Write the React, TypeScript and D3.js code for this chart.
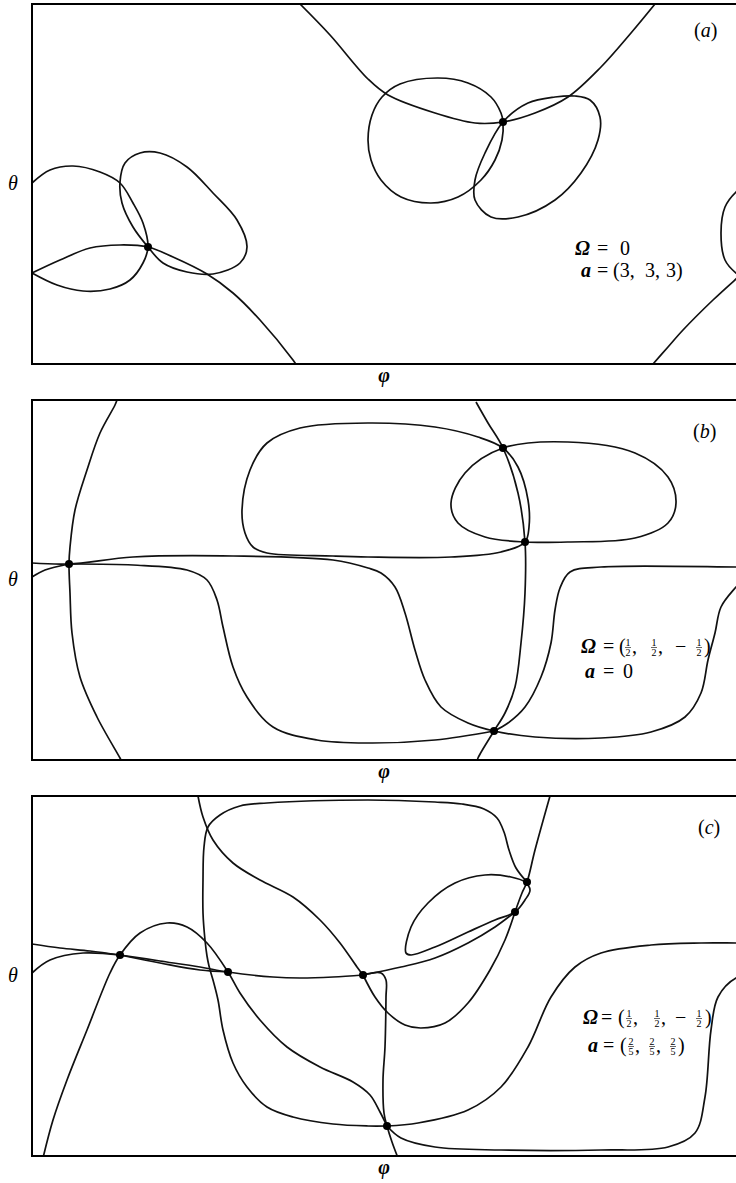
import React from 'react';
import * as d3 from 'd3';

type Pt = [number, number];

// phi runs 0..720 across a frame, theta 0..360 down it

// (a) Omega = 0, a = (3, 3, 3)
const aArcTop: Pt[] = [[268,0],[298,31],[336,75],[356,91],[403,109],[443,119],[471,118],[503,109],[536,93],[569,63],[599,29],[623,0]];
const aRingTop: Pt[] = [[336,136],[340,111],[350,93],[368,80],[406,74],[436,79],[459,93],[469,109],[471,118],[470,136],[463,156],[449,176],[426,193],[399,199],[369,193],[349,176],[339,156]];
const aOvalTop: Pt[] = [[471,118],[496,99],[523,93],[543,92],[558,96],[568,113],[566,136],[549,169],[523,196],[486,213],[459,213],[443,196],[443,176],[453,149]];
const aEdgeBump: Pt[] = [[716,180],[704,188],[693,203],[689,229],[693,256],[704,269],[716,276]];
const aCornerArc: Pt[] = [[621,360],[636,343],[651,326],[681,296],[704,275],[720,261]];
const aLoopLeft: Pt[] = [[0,179],[18,166],[41,162],[68,168],[88,179],[101,199],[111,219],[116,243],[111,259],[98,276],[78,285],[51,287],[25,281],[0,269]];
const aOvalLeft: Pt[] = [[88,178],[93,159],[108,149],[128,149],[155,163],[181,189],[205,216],[215,243],[208,259],[181,270],[155,268],[131,259],[116,243],[101,223],[90,199]];
const aArcLow: Pt[] = [[0,269],[28,256],[58,244],[88,241],[116,243],[141,253],[175,270],[201,289],[228,316],[261,356],[265,362]];
const aNodes: Pt[] = [[116,243],[471,118]];

// (b) Omega = (1/2, 1/2, -1/2), a = 0
const bMeridian: Pt[] = [[85,0],[83,5],[68,33],[55,70],[43,110],[38,147],[37,164],[38,193],[40,233],[48,277],[65,317],[88,358],[90,362]];
const bUpperS: Pt[] = [[0,163],[37,164],[101,157],[201,156],[301,160],[336,168],[349,173],[363,187],[373,213],[383,250],[393,280],[409,307],[436,323],[462,331],[503,337],[569,338],[619,332],[653,317],[669,293],[676,260],[683,233],[689,207],[704,187],[714,176]];
const bLowerS: Pt[] = [[37,164],[101,165],[155,170],[175,180],[185,200],[191,227],[201,267],[215,297],[241,327],[285,340],[336,343],[403,340],[462,331]];
const bEdgeStub: Pt[] = [[0,177],[13,170],[37,164]];
const bRightS: Pt[] = [[720,167],[704,167],[569,167],[538,172],[528,188],[523,210],[519,243],[509,277],[493,307],[476,323],[462,331]];
const bChord: Pt[] = [[444,2],[456,23],[471,48],[486,93],[493,142],[493,193],[489,243],[483,287],[473,313],[462,331],[446,358],[445,362]];
const bLoopLeft: Pt[] = [[336,23],[268,28],[235,43],[218,70],[210,110],[213,133],[221,147],[235,153],[301,156],[336,157],[419,157],[469,152],[493,142],[497,127],[496,100],[486,67],[471,48],[446,37],[403,27]];
const bLoopRight: Pt[] = [[471,48],[536,42],[603,53],[636,77],[644,103],[636,123],[603,138],[536,142],[493,142],[453,137],[426,123],[419,103],[433,73]];
const bNodes: Pt[] = [[37,164],[471,48],[493,142],[462,331]];

// (c) Omega = (1/2, 1/2, -1/2), a = (2/5, 2/5, 2/5)
const cFallTop: Pt[] = [[166,0],[171,21],[181,44],[201,67],[228,84],[261,101],[288,124],[308,147],[325,171],[331,179]];
const cValley: Pt[] = [[331,179],[343,201],[356,217],[373,229],[389,232],[413,227],[436,207],[458,174],[473,144],[483,116]];
const cSteep: Pt[] = [[483,116],[490,97],[495,86],[503,54],[518,0]];
const cRise: Pt[] = [[331,179],[369,171],[403,162],[436,147],[463,131],[483,116]];
const cCorner: Pt[] = [[331,179],[349,177],[354,184],[354,201],[353,251],[351,284],[352,317],[355,330],[360,346],[366,362]];
const cBox: Pt[] = [[495,86],[484,72],[477,54],[472,36],[465,22],[452,13],[430,8],[403,6],[336,4],[235,7],[208,10],[188,19],[176,31],[172,51],[171,84],[171,117],[173,144],[175,160],[177,170],[181,184],[186,204],[191,234],[201,267],[215,291],[235,311],[261,321],[301,328],[336,330],[355,330]];
const cTwin: Pt[] = [[88,159],[128,167],[168,174],[196,176]];
const cLeaf: Pt[] = [[374,157],[379,131],[396,107],[423,87],[453,79],[479,81],[493,86],[498,94],[493,104],[483,116],[463,124],[436,136],[403,151],[379,159]];
const cSlope: Pt[] = [[0,148],[28,152],[58,155],[88,159],[128,165],[168,171],[196,176],[241,181],[268,182],[301,181],[331,179]];
const cEdgeArc: Pt[] = [[0,177],[18,164],[51,157],[88,159]];
const cArch: Pt[] = [[11,362],[21,324],[35,284],[55,234],[78,177],[88,159],[108,137],[135,127],[155,131],[175,147],[196,176],[208,197],[228,224],[255,251],[288,271],[321,286],[338,299],[348,316],[355,330]];
const cSwing: Pt[] = [[355,330],[386,327],[436,314],[469,291],[496,251],[519,201],[543,171],[569,157],[619,149],[669,147],[704,147],[720,147]];
const cFloor: Pt[] = [[355,330],[369,342],[403,351],[469,354],[569,354],[636,351],[663,337],[673,301],[679,234],[686,201],[704,182],[720,179]];
const cNodes: Pt[] = [[88,159],[196,176],[331,179],[483,116],[495,86],[355,330]];

const panelTags = ['a', 'b', 'c'];

type Tok = { x: number; t?: string; frac?: [string, string]; bold?: boolean };
type Line = { base: number; toks: Tok[] };

const panels = [
  {
    tag: panelTags[0], top: 4, tagX: 694, tagY: 33,
    open: [aArcTop, aEdgeBump, aCornerArc, aLoopLeft, aArcLow],
    closed: [aRingTop, aOvalTop, aOvalLeft],
    nodes: aNodes,
    note: [
      { base: 251, toks: [{ x: 575, t: 'Ω', bold: true }, { x: 597, t: '=' }, { x: 620, t: '0' }] },
      { base: 273, toks: [{ x: 581, t: 'a', bold: true }, { x: 597, t: '=' }, { x: 613, t: '(3,' }, { x: 645, t: '3,' }, { x: 666, t: '3)' }] },
    ] as Line[],
  },
  {
    tag: panelTags[1], top: 400, tagX: 693, tagY: 38,
    open: [bMeridian, bUpperS, bLowerS, bEdgeStub, bRightS, bChord],
    closed: [bLoopLeft, bLoopRight],
    nodes: bNodes,
    note: [
      { base: 253, toks: [{ x: 581, t: 'Ω', bold: true }, { x: 603, t: '=' }, { x: 619, t: '(' }, { x: 625, frac: ['1', '2'] }, { x: 632, t: ',' }, { x: 651, frac: ['1', '2'] }, { x: 658, t: ',' }, { x: 675, t: '−' }, { x: 696, frac: ['1', '2'] }, { x: 704, t: ')' }] },
      { base: 278, toks: [{ x: 585, t: 'a', bold: true }, { x: 603, t: '=' }, { x: 623, t: '0' }] },
    ] as Line[],
  },
  {
    tag: panelTags[2], top: 796, tagX: 698, tagY: 38,
    open: [cFallTop, cValley, cSteep, cRise, cCorner, cBox, cTwin, cSlope, cEdgeArc, cArch, cSwing, cFloor],
    closed: [cLeaf],
    nodes: cNodes,
    note: [
      { base: 228, toks: [{ x: 583, t: 'Ω', bold: true }, { x: 601, t: '=' }, { x: 618, t: '(' }, { x: 626, frac: ['1', '2'] }, { x: 633, t: ',' }, { x: 654, frac: ['1', '2'] }, { x: 661, t: ',' }, { x: 675, t: '−' }, { x: 696, frac: ['1', '2'] }, { x: 705, t: ')' }] },
      { base: 256, toks: [{ x: 588, t: 'a', bold: true }, { x: 603, t: '=' }, { x: 620, t: '(' }, { x: 628, frac: ['2', '5'] }, { x: 635, t: ',' }, { x: 649, frac: ['2', '5'] }, { x: 656, t: ',' }, { x: 670, frac: ['2', '5'] }, { x: 678, t: ')' }] },
    ] as Line[],
  },
];

const SERIF = "'Liberation Serif', 'Times New Roman', serif";
const LEFT = 32;
const W = 720;
const H = 360;

function Panel({ p }: { p: (typeof panels)[number] }) {
  const x = d3.scaleLinear().domain([0, W]).range([LEFT, LEFT + W]);
  const y = d3.scaleLinear().domain([0, H]).range([p.top, p.top + H]);
  const open = d3.line<Pt>().x((d) => x(d[0])).y((d) => y(d[1])).curve(d3.curveCatmullRom.alpha(0.5));
  const closed = d3.line<Pt>().x((d) => x(d[0])).y((d) => y(d[1])).curve(d3.curveCatmullRomClosed.alpha(0.5));
  const clip = `clip-${p.tag}`;
  const bottom = p.top + H;

  return (
    <g>
      <defs>
        <clipPath id={clip}>
          <rect x={LEFT} y={p.top} width={W} height={H} />
        </clipPath>
      </defs>
      <g clipPath={`url(#${clip})`} fill="none" stroke="#111" strokeWidth={1.7}>
        {p.open.map((c, i) => <path key={'o' + i} d={open(c) || ''} />)}
        {p.closed.map((c, i) => <path key={'c' + i} d={closed(c) || ''} />)}
      </g>
      {p.nodes.map((d, i) => <circle key={i} cx={x(d[0])} cy={y(d[1])} r={4} fill="#000" />)}
      <rect x={LEFT} y={p.top} width={W + 20} height={H} fill="none" stroke="#000" strokeWidth={2} />

      <text x={13} y={p.top + H / 2 + 6} textAnchor="middle" fontFamily={SERIF} fontStyle="italic" fontSize={20}>θ</text>
      <text x={384} y={bottom + 18} textAnchor="middle" fontFamily={SERIF} fontStyle="italic" fontWeight="bold" fontSize={20}>φ</text>
      <text x={p.tagX} y={p.top + p.tagY} fontFamily={SERIF} fontSize={20}>
        (<tspan fontStyle="italic">{p.tag}</tspan>)
      </text>

      {p.note.map((ln, li) => {
        const b = p.top + ln.base;
        return (
          <g key={li} fontFamily={SERIF}>
            {ln.toks.map((tk, ti) =>
              tk.frac ? (
                <g key={ti}>
                  <text x={tk.x + 3} y={b - 7} textAnchor="middle" fontSize={10}>{tk.frac[0]}</text>
                  <line x1={tk.x} x2={tk.x + 6} y1={b - 5.5} y2={b - 5.5} stroke="#000" strokeWidth={0.6} />
                  <text x={tk.x + 3} y={b + 2.5} textAnchor="middle" fontSize={10}>{tk.frac[1]}</text>
                </g>
              ) : (
                <text key={ti} x={tk.x} y={b} fontSize={20} fontWeight={tk.bold ? 'bold' : 'normal'} fontStyle={tk.bold ? 'italic' : 'normal'}>
                  {tk.t}
                </text>
              )
            )}
          </g>
        );
      })}
    </g>
  );
}

export default function App() {
  return (
    <svg width={736} height={1183} style={{ position: 'absolute', left: 0, top: 0, background: '#fff' }}>
      <rect width={736} height={1183} fill="#fff" />
      {panels.map((p) => <Panel key={p.tag} p={p} />)}
    </svg>
  );
}
